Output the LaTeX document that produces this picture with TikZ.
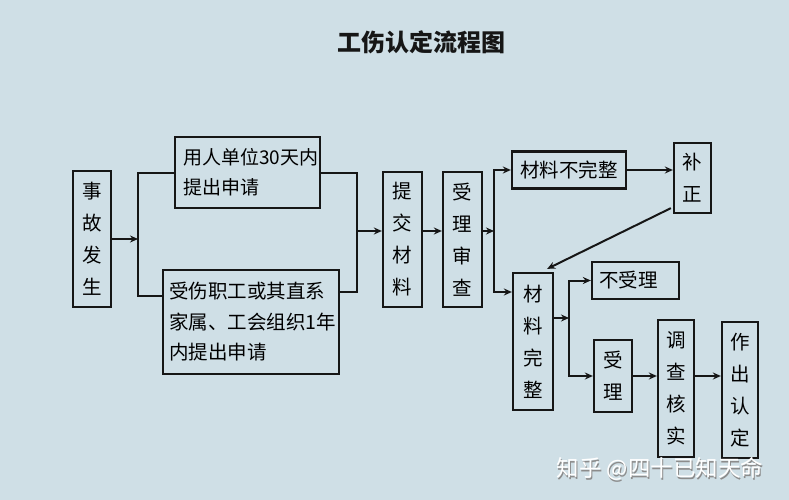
\documentclass[tikz,border=0pt]{standalone}
\usepackage{fontspec}
\setmainfont{Noto Sans CJK SC}
\usetikzlibrary{arrows.meta}
\definecolor{bg}{HTML}{CFDFE6}
\definecolor{ink}{HTML}{161616}
\begin{document}
\begin{tikzpicture}[x=1pt,y=-1pt,
  box/.style={draw=ink, line width=2.3pt, fill=bg, inner sep=0pt, align=center,
    font=\fontsize{19.5}{32}\selectfont},
  link/.style={line width=2pt, draw=ink},
  arr/.style={link, -{Stealth[length=8pt,width=7pt]}}]
\fill[bg] (0,0) rectangle (789,500);
\useasboundingbox (0,0) rectangle (789,500);
\node[font=\fontsize{24}{28}\selectfont\bfseries, text=ink] (title) at (421,42) {工伤认定流程图};
\node[box, minimum width=38, minimum height=136] (shigu) at (92,239) {事\\故\\发\\生};
\node[box, minimum width=145, minimum height=71, align=left, text width=129,
  font=\fontsize{19}{30}\selectfont] (top) at (247.5,172.5) {用人单位30天内\\提出申请};
\node[box, minimum width=176, minimum height=104, align=left, text width=164,
  font=\fontsize{19.5}{30.5}\selectfont] (bot) at (251,322) {受伤职工或其直系\\家属、工会组织1年\\内提出申请};
\node[box, minimum width=39, minimum height=135] (tijiao) at (402.5,239.5) {提\\交\\材\\料};
\node[box, minimum width=39, minimum height=135] (shencha) at (462.5,239.5) {受\\理\\审\\查};
\node[box, minimum width=114, minimum height=37] (buwz) at (569,170) {材料不完整};
\node[box, minimum width=37, minimum height=70] (buzheng) at (692.5,178) {补\\正};
\node[box, minimum width=40, minimum height=137] (wz) at (533,341.5) {材\\料\\完\\整};
\node[box, minimum width=87, minimum height=37, align=left, text width=73] (bsl) at (635.5,280.5) {不受理};
\node[box, minimum width=38, minimum height=72] (sl) at (613,376) {受\\理};
\node[box, minimum width=36, minimum height=137] (dc) at (676,388.5) {调\\查\\核\\实};
\node[box, minimum width=36, minimum height=136] (zc) at (740,390) {作\\出\\认\\定};
% connectors
\coordinate (b1) at (138,239);
\coordinate (bl) at (138,296);
\draw[arr] (shigu.east) -- (b1);
\draw[link] (top.west) -| (bl) -- (bl -| bot.west);
\coordinate (m1) at (357,231);
\coordinate (mb) at (357,292);
\draw[link] (top.east) -| (mb) -- (mb -| bot.east);
\draw[arr] (m1) -- (m1 -| tijiao.west);
\draw[arr] (tijiao.east |- m1) -- (m1 -| shencha.west);
\coordinate (b2) at (494,231);
\coordinate (b2b) at (494,292);
\draw[arr] (shencha.east |- b2) -- (b2);
\draw[arr] (b2) |- (buwz.west);
\draw[arr] (b2) -- (b2b) -- (b2b -| wz.west);
\draw[arr] (buwz.east) -- (buwz.east -| buzheng.west);
\draw[arr] ([xshift=-2pt,yshift=6pt]buzheng.south west) -- ([xshift=-7pt,yshift=3pt]wz.north east);
\coordinate (b3) at (569,318);
\draw[arr] (wz.east |- b3) -- (b3);
\draw[arr] (b3) |- (bsl.west);
\draw[arr] (b3) |- (sl.west);
\draw[arr] (sl.east) -- (sl.east -| dc.west);
\draw[arr] (dc.east |- sl.east) -- (sl.east -| zc.west);
% watermark
\node[font=\fontsize{22.5}{26}\selectfont, text=black!45] (wmshadow) at (661,470.5) {知乎 @四十已知天命};
\node[font=\fontsize{22.5}{26}\selectfont, text=white] (wm) at (660,469) {知乎 @四十已知天命};
\end{tikzpicture}
\end{document}
